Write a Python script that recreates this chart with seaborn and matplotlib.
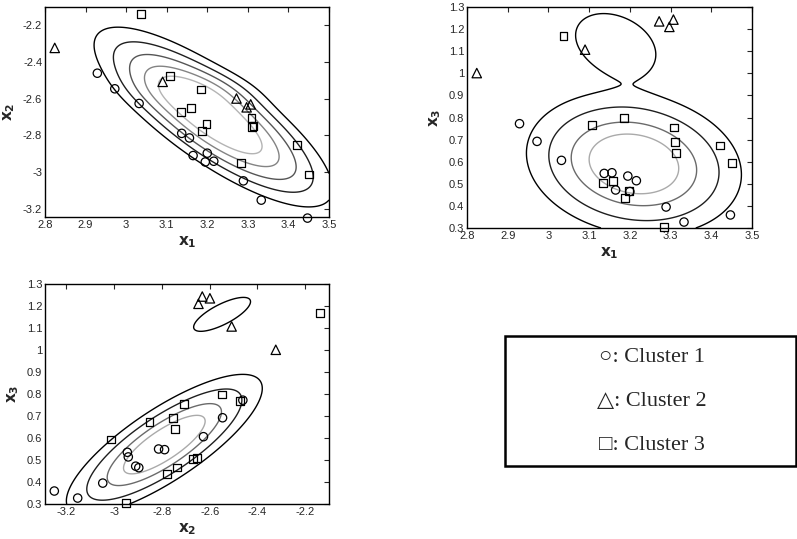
import numpy as np
import pandas as pd
import matplotlib
matplotlib.use("Agg")
import matplotlib.pyplot as plt
from matplotlib.patches import Rectangle
import seaborn as sns

# ---- data points ----
cluster = [1]*12 + [2]*5 + [3]*13
x1 = [2.929, 2.972, 3.032, 3.137, 3.156, 3.165, 3.200, 3.195, 3.216, 3.289, 3.333, 3.447,
      2.824, 3.090, 3.272, 3.307, 3.297,
      3.037, 3.108, 3.185, 3.135, 3.159, 3.198, 3.188, 3.284, 3.422, 3.450, 3.309, 3.310, 3.314]
x2 = [-2.461, -2.546, -2.626, -2.789, -2.814, -2.910, -2.897, -2.945, -2.941, -3.048, -3.153, -3.251,
      -2.323, -2.508, -2.599, -2.631, -2.647,
      -2.137, -2.474, -2.550, -2.671, -2.653, -2.736, -2.778, -2.950, -2.852, -3.013, -2.707, -2.754, -2.747]
x3 = [0.772, 0.692, 0.606, 0.547, 0.550, 0.472, 0.465, 0.535, 0.514, 0.395, 0.327, 0.359,
      1.001, 1.107, 1.235, 1.243, 1.210,
      1.170, 0.768, 0.798, 0.505, 0.511, 0.466, 0.437, 0.303, 0.673, 0.593, 0.755, 0.689, 0.639]

# ---- fitted density model shown as contours (per panel: main + cluster-2 component) ----
# each: mean, sd, corr
tl_main = ((3.215, -2.70), (0.12, 0.20), -0.80)
tl_c2 = ((3.17, -2.56), (0.08, 0.07), -0.3)
tr_main = ((3.21, 0.59), (0.11, 0.135), -0.15)
tr_c2 = ((3.165, 1.13), (0.07, 0.10), -0.3)
bl_main = ((-2.79, 0.57), (0.171, 0.133), 0.80)
bl_c2 = ((-2.548, 1.162), (0.085, 0.055), 0.75)
c2_rel = 0.15
tl_radii = [2.45, 2.05, 1.7, 1.35, 1.0]
tr_radii = [2.4, 1.9, 1.4, 1.0]
bl_radii = [2.4, 1.9, 1.4, 1.0]
tl_colors = ["#000000", "#1e1e1e", "#555555", "#838383", "#b4b4b4"]
tr_colors = ["#000000", "#1e1e1e", "#6a6a6a", "#aaaaaa"]

# ---- axes ----
x1_ticks = [2.8, 2.9, 3.0, 3.1, 3.2, 3.3, 3.4, 3.5]
x1_labels = ["2.8", "2.9", "3", "3.1", "3.2", "3.3", "3.4", "3.5"]
x2_ticks = [-3.2, -3.0, -2.8, -2.6, -2.4, -2.2]
x2_labels = ["-3.2", "-3", "-2.8", "-2.6", "-2.4", "-2.2"]
x3_ticks = [0.3, 0.4, 0.5, 0.6, 0.7, 0.8, 0.9, 1.0, 1.1, 1.2, 1.3]
x3_labels = ["0.3", "0.4", "0.5", "0.6", "0.7", "0.8", "0.9", "1", "1.1", "1.2", "1.3"]
legend_lines = ["\u25CB: Cluster 1", "\u25B3: Cluster 2", "\u25A1: Cluster 3"]

df = pd.DataFrame({"cluster": cluster, "x1": x1, "x2": x2, "x3": x3})

sns.set_style("white")
plt.rcParams["font.family"] = ["Liberation Sans", "DejaVu Sans"]
plt.rcParams["axes.unicode_minus"] = False

fig = plt.figure(figsize=(7.97, 5.39), dpi=100)
ax_tl = fig.add_axes([45/797, 1-217/539, 284/797, 210/539])
ax_tr = fig.add_axes([467/797, 1-228/539, 285/797, 221/539])
ax_bl = fig.add_axes([45/797, 1-504/539, 284/797, 220/539])

markers = {1: "o", 2: "^", 3: "s"}
sizes = {1: 36, 2: 46, 3: 32}


def gauss(X, Y, comp):
    (mx, my), (sx, sy), r = comp
    u = (X - mx) / sx
    v = (Y - my) / sy
    m2 = (u*u + v*v - 2*r*u*v) / (1 - r*r)
    return np.exp(-0.5*m2)


def panel(ax, xv, yv, xlim, ylim, xt, xl, yt, yl, xlab, ylab, main, c2, radii, colors):
    gx = np.linspace(xlim[0], xlim[1], 400)
    gy = np.linspace(ylim[0], ylim[1], 400)
    X, Y = np.meshgrid(gx, gy)
    Z = gauss(X, Y, main) + c2_rel*gauss(X, Y, c2)
    levels = [np.exp(-0.5*r*r) for r in radii]
    ax.contour(X, Y, Z, levels=levels, colors=colors, linewidths=1.0)
    for c in [1, 2, 3]:
        sub = df[df.cluster == c]
        sns.scatterplot(data=sub, x=xv, y=yv, ax=ax, marker=markers[c],
                        s=sizes[c], facecolor="none", edgecolor="black",
                        linewidth=0.9, zorder=5, clip_on=False)
    ax.set_xlim(*xlim)
    ax.set_ylim(*ylim)
    ax.set_xticks(xt)
    ax.set_xticklabels(xl)
    ax.set_yticks(yt)
    ax.set_yticklabels(yl)
    ax.tick_params(direction="in", length=3.5, width=0.8, labelsize=8,
                   top=True, right=True, pad=2)
    for s in ax.spines.values():
        s.set_visible(True)
        s.set_linewidth(1.0)
        s.set_color("black")
    ax.set_xlabel(xlab, fontsize=11, labelpad=3)
    ax.set_ylabel(ylab, fontsize=11, labelpad=4)


panel(ax_tl, "x1", "x2", (2.8, 3.5), (-3.245, -2.1), x1_ticks, x1_labels,
      x2_ticks, x2_labels, r"$\mathbf{x_1}$", r"$\mathbf{x_2}$",
      tl_main, tl_c2, tl_radii, tl_colors)
panel(ax_tr, "x1", "x3", (2.8, 3.5), (0.3, 1.3), x1_ticks, x1_labels,
      x3_ticks, x3_labels, r"$\mathbf{x_1}$", r"$\mathbf{x_3}$",
      tr_main, tr_c2, tr_radii, tr_colors)
panel(ax_bl, "x2", "x3", (-3.29, -2.1), (0.3, 1.3), x2_ticks, x2_labels,
      x3_ticks, x3_labels, r"$\mathbf{x_2}$", r"$\mathbf{x_3}$",
      bl_main, bl_c2, bl_radii, tr_colors)

# legend box
fig.patches.append(Rectangle((505/797, 1-466/539), 291/797, 130/539,
                             transform=fig.transFigure, fill=False,
                             edgecolor="black", linewidth=1.8))
for i, t in enumerate(legend_lines):
    fig.text(652/797, 1-(358 + i*43.5)/539, t, ha="center", va="center",
             fontsize=16, family=["Liberation Serif", "DejaVu Serif"])

fig.savefig("out.png", dpi=100)
